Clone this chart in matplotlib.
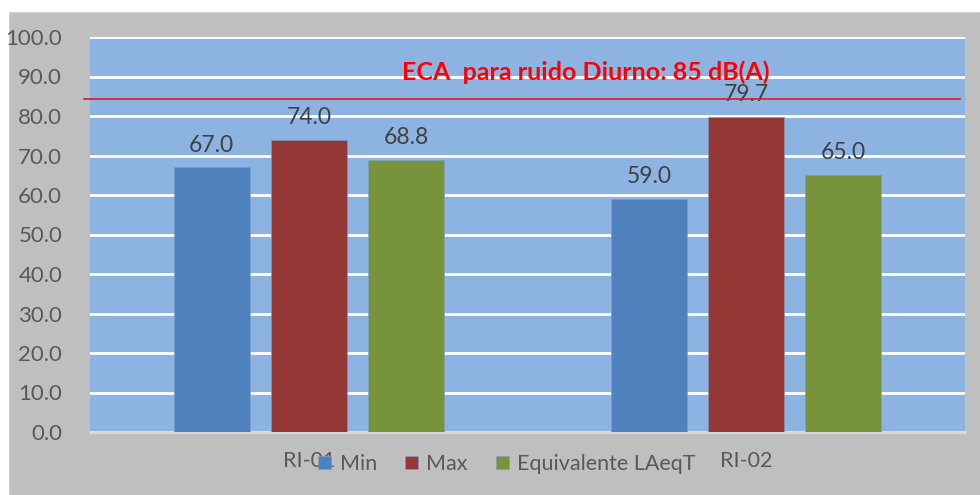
import matplotlib.pyplot as plt
import numpy as np
from matplotlib.patches import Rectangle

# data
puntos = ["RI-01", "RI-02"]
series = ["Min", "Max", "Equivalente LAeqT"]
val_min = [67.0, 59.0]
val_max = [74.0, 79.7]
val_leq = [68.8, 65.0]
limite = 84.4
titulo_eca = "ECA  para ruido Diurno: 85 dB(A)"

colores = ["#4f81bd", "#953735", "#77933c"]

plt.rcParams['font.family'] = ['Lato', 'DejaVu Sans']

fig = plt.figure(figsize=(9.8, 4.95), dpi=100)
fig.patch.set_facecolor("white")
fig.patches.append(Rectangle((9/980, 0), 971/980, 483/495, transform=fig.transFigure,
                             facecolor="#bfbfbf", edgecolor="#d0d0d0", lw=0.8, zorder=-1))

ax = fig.add_axes([90/980, 63/495, 875/980, 395/495])
ax.set_facecolor("#8db3e2")

x = np.arange(len(puntos))
w = 0.174
paso = 0.222
for i, (vals, nombre) in enumerate(zip([val_min, val_max, val_leq], series)):
    barras = ax.bar(x + (i - 1) * paso, vals, w, color=colores[i], label=nombre,
                    edgecolor="#7f9fc8", linewidth=0.4, zorder=3)
    for b, v in zip(barras, vals):
        ax.text(b.get_x() + b.get_width() / 2, v + 3.0, f"{v:.1f}", ha="center", va="bottom",
                fontsize=16.5, color="#404040", zorder=4)

ax.set_xlim(-0.5, 1.5)
ax.set_ylim(0, 100)
ax.set_yticks(np.arange(0, 101, 10))
ax.set_yticklabels([f"{t:.1f}" for t in np.arange(0, 101, 10)])
ax.yaxis.grid(True, color="white", linewidth=2, zorder=1)
ax.set_axisbelow(True)
ax.tick_params(axis="y", length=0, labelsize=16, labelcolor="#595959", pad=20)
ax.set_xticks(x)
ax.set_xticklabels(puntos)
ax.tick_params(axis="x", length=0, labelsize=15.5, labelcolor="#595959", pad=14)
for s in ["top", "right", "left"]:
    ax.spines[s].set_visible(False)
ax.spines["bottom"].set_color("#d9d9d9")
ax.spines["bottom"].set_linewidth(2)

ax.axhline(limite, xmin=-0.007, xmax=0.994, color="#e31a1c", lw=1.2, clip_on=False, zorder=5)
ax.text(0.566, 0.91, titulo_eca, transform=ax.transAxes, ha="center", va="center",
        fontsize=18, fontweight="bold", color="#ff0000", zorder=6)

ax.legend(loc="center", bbox_to_anchor=(507/980, 31/495), bbox_transform=fig.transFigure,
          ncol=3, frameon=False, fontsize=15.5, handlelength=0.6, handleheight=0.6,
          handletextpad=0.4, columnspacing=1.3, labelcolor="#595959")

fig.savefig("out.png", dpi=100)
